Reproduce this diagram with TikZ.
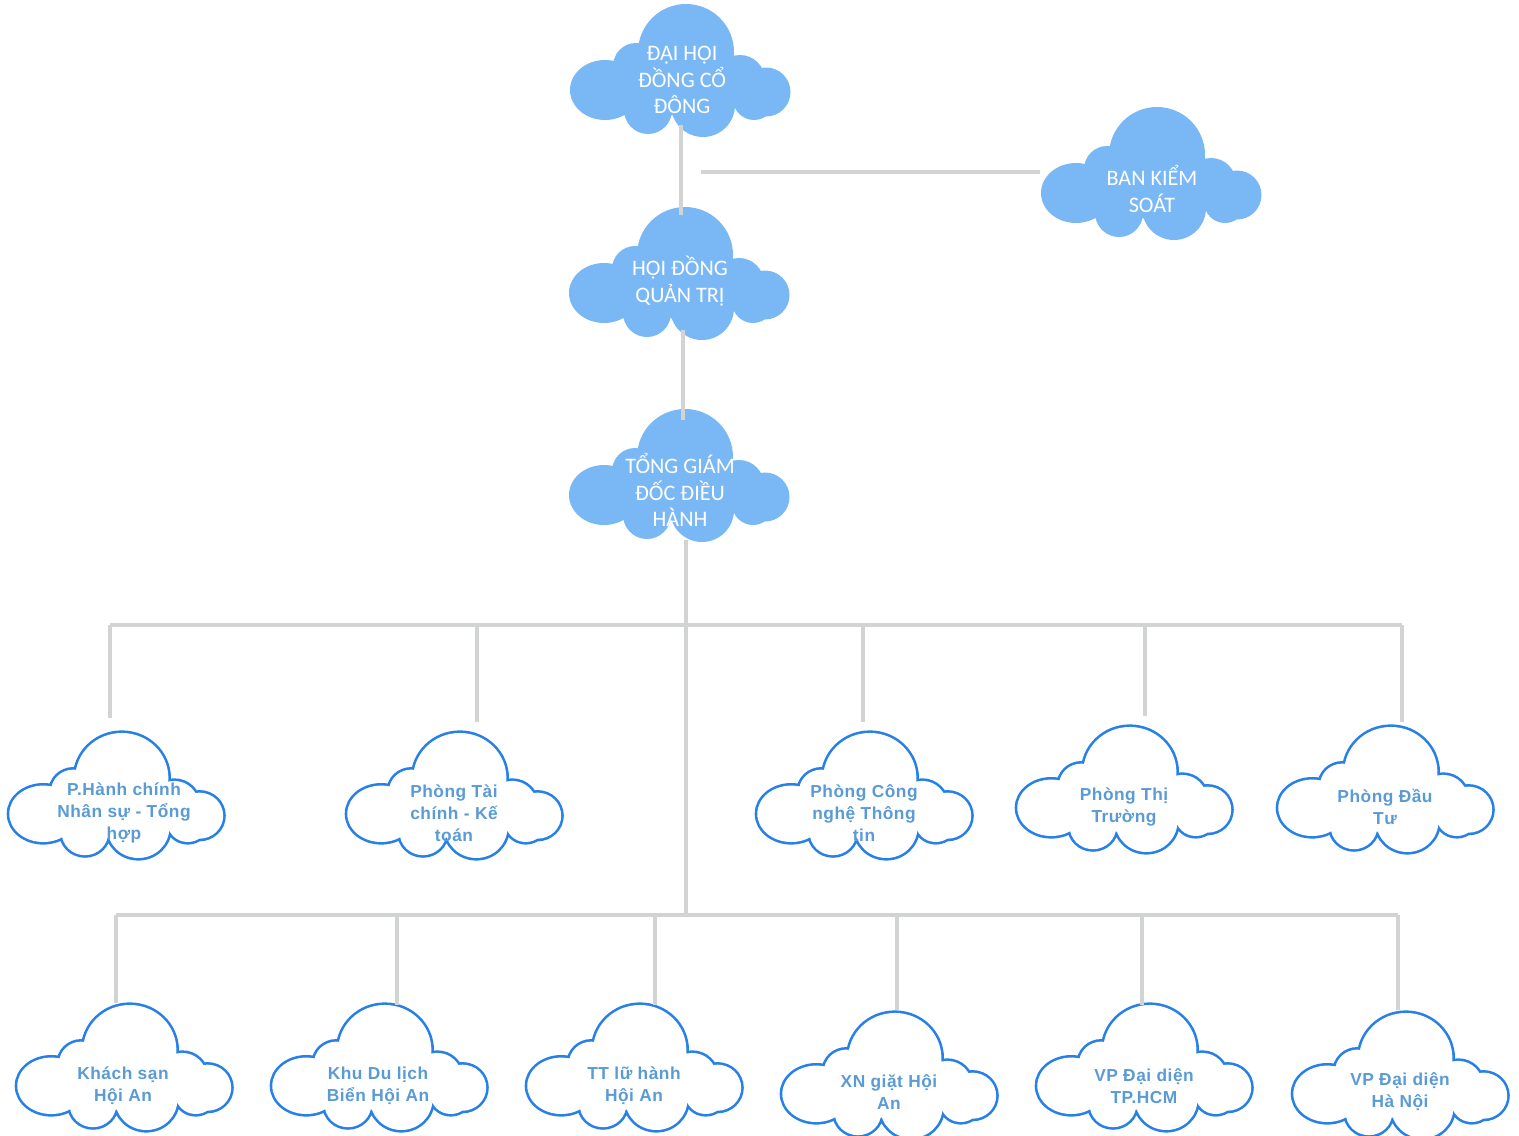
\documentclass[tikz,border=0pt]{standalone}
\usepackage{fontspec}
\setmainfont{Carlito}
\newfontfamily\bsans{Liberation Sans}[LetterSpace=3]
\definecolor{cloudfill}{RGB}{122,184,245}
\definecolor{cloudline}{RGB}{38,128,232}
\definecolor{txtblue}{RGB}{91,155,213}
\definecolor{connc}{RGB}{210,212,212}
\def\cloudparts{(6,-18) circle[radius=48] (-44,-4) circle[radius=23] (-75,20) ellipse[x radius=35,y radius=30] (-32,40) circle[radius=24] (23,35) circle[radius=32] (74,29) circle[radius=21] (86,22) circle[radius=24.5] (60,10) circle[radius=25]}
\def\cloudfiller{(5,12) ellipse[x radius=62,y radius=34]}
\newcommand\filledcloud[1]{%
  \begin{scope}[shift={#1}]
    \fill[cloudfill] \cloudparts \cloudfiller;
  \end{scope}}
\newcommand\linecloud[1]{%
  \begin{scope}[shift={#1},xscale=0.97,yscale=0.94]
    \draw[cloudline,line width=3.9pt] \cloudparts;
    \fill[white] \cloudparts \cloudfiller;
  \end{scope}}
\tikzset{
  whitetxt/.style={text=white,align=center,inner sep=0pt,font=\fontsize{16.6}{19.9}\selectfont},
  bluetxt/.style={text=txtblue,align=center,inner sep=0pt,font=\bsans\bfseries\fontsize{13}{16.5}\selectfont},
  conn/.style={draw=connc,line width=2.3pt}
}
\begin{document}
\begin{tikzpicture}[x=0.75pt,y=-0.75pt]
\useasboundingbox (0,0) rectangle (1519,1135);
% clouds
\filledcloud{(680,70)}
\filledcloud{(1151,173)}
\filledcloud{(679,273)}
\filledcloud{(679,475)}
\linecloud{(116,795)}
\linecloud{(454,795)}
\linecloud{(864,795)}
\linecloud{(1124,789)}
\linecloud{(1385,789)}
\linecloud{(124,1067)}
\linecloud{(379,1067)}
\linecloud{(634,1067)}
\linecloud{(889,1075)}
\linecloud{(1144,1067)}
\linecloud{(1400,1075)}
% texts
\node[whitetxt] (dh) at (682,80) {ĐẠI HỘI\\ĐỒNG CỔ\\ĐÔNG};
\node[whitetxt] (bks) at (1152,189) {BAN KIỂM\\SOÁT};
\node[whitetxt] (hdqt) at (680,281) {HỘI ĐỒNG\\QUẢN TRỊ};
\node[whitetxt] (tgd) at (680,490) {TỔNG GIÁM\\ĐỐC ĐIỀU\\HÀNH};
\node[bluetxt] (p1) at (124,813) {P.Hành chính\\Nhân sự - Tổng\\hợp};
\node[bluetxt] (p2) at (454,813) {Phòng Tài\\chính - Kế\\toán};
\node[bluetxt] (p3) at (864,813) {Phòng Công\\nghệ Thông\\tin};
\node[bluetxt] (p4) at (1124,807) {Phòng Thị\\Trường};
\node[bluetxt] (p5) at (1385,807) {Phòng Đầu\\Tư};
\node[bluetxt] (q1) at (123,1086) {Khách sạn\\Hội An};
\node[bluetxt] (q2) at (378,1086) {Khu Du lịch\\Biển Hội An};
\node[bluetxt] (q3) at (634,1086) {TT lữ hành\\Hội An};
\node[bluetxt] (q4) at (889,1092) {XN giặt Hội\\An};
\node[bluetxt] (q5) at (1144,1086) {VP Đại diện\\TP.HCM};
\node[bluetxt] (q6) at (1400,1092) {VP Đại diện\\Hà Nội};
% connector end points
\coordinate (dhS) at (681,125);
\coordinate (hdqtN) at (681,215);
\coordinate (brS) at (701,172);
\coordinate (bksW) at (1040,172);
\coordinate (hdqtS) at (683,330);
\coordinate (tgdN) at (683,420);
\coordinate (tgdS) at (686,540);
\coordinate (bus2m) at (686,915);
\coordinate (bus1L) at (110,625);
\coordinate (bus1R) at (1402,625);
\coordinate (bus2L) at (116,915);
\coordinate (bus2R) at (1398,915);
\coordinate (p1N) at (110,718);
\coordinate (p2N) at (477,722);
\coordinate (p3N) at (863,722);
\coordinate (p4N) at (1145,716);
\coordinate (p5N) at (1402,722);
\coordinate (q1N) at (116,1003);
\coordinate (q2N) at (397,1005);
\coordinate (q3N) at (655,1005);
\coordinate (q4N) at (897,1010);
\coordinate (q5N) at (1142,1005);
\coordinate (q6N) at (1398,1010);
% connectors
\draw[conn] (dhS) -- (hdqtN);
\draw[conn] (brS) -- (bksW);
\draw[conn] (hdqtS) -- (tgdN);
\draw[conn] (tgdS) -- (bus2m);
\draw[conn] (bus1L) -- (bus1R);
\draw[conn] (bus2L) -- (bus2R);
\foreach \n in {p1,p2,p3,p4,p5}{\draw[conn] (\n N) -- (\n N |- bus1L);}
\foreach \n in {q1,q2,q3,q4,q5,q6}{\draw[conn] (\n N) -- (\n N |- bus2L);}
\end{tikzpicture}
\end{document}
